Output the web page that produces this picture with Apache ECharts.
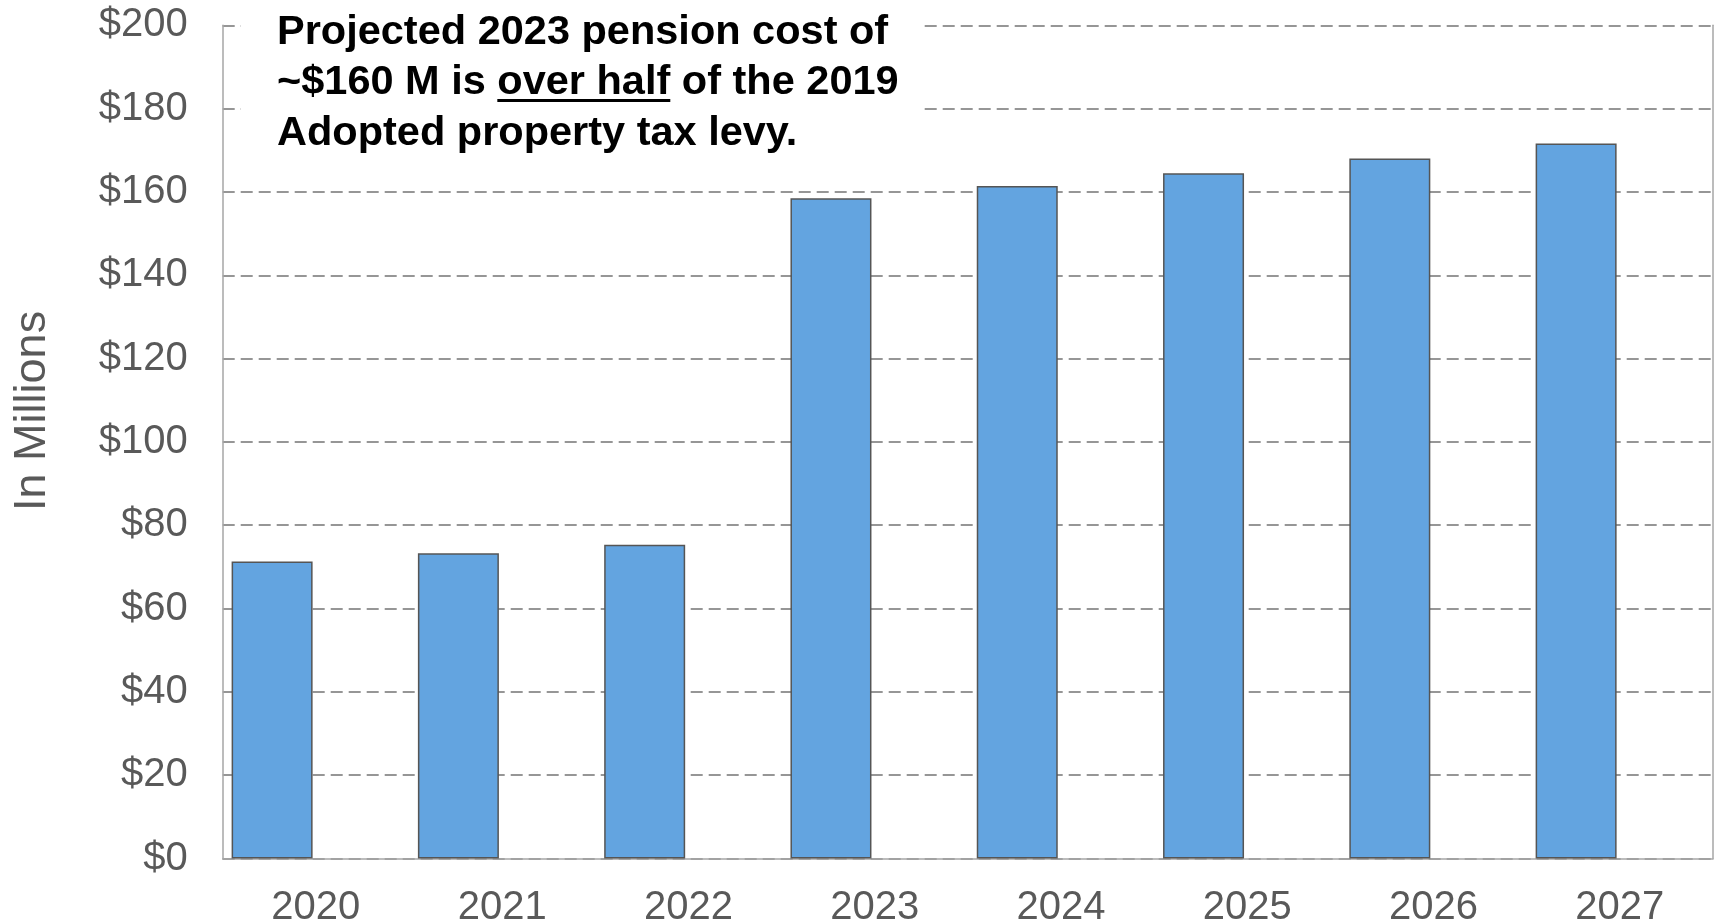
<!DOCTYPE html>
<html>
<head>
<meta charset="utf-8">
<script src="https://cdn.jsdelivr.net/npm/echarts@6/dist/echarts.min.js"></script>
<style>
html,body{margin:0;padding:0;background:#fff;}
#chart{width:1719px;height:924px;}
</style>
</head>
<body>
<div id="chart"></div>
<script>
const years = ['2020','2021','2022','2023','2024','2025','2026','2027'];
const pensionCost = [71.3, 73.3, 75.3, 158.5, 161.4, 164.5, 168.0, 171.6];
const emptySeries = [null, null, null, null, null, null, null, null];
const yTicks = {min: 0, max: 200, interval: 20};
const noteLine1 = 'Projected 2023 pension cost of';
const noteLine2Pre = '~$160 M is ';
const noteLine2Under = 'over half';
const noteLine2Post = ' of the 2019';
const noteLine3 = 'Adopted property tax levy.';

const noteFont = 'bold 41.5px "Liberation Sans", Arial, sans-serif';
const ctx = document.createElement('canvas').getContext('2d');
ctx.font = noteFont;
const noteX = 277;
const ulStart = noteX + ctx.measureText(noteLine2Pre).width;
const ulWidth = ctx.measureText(noteLine2Under).width;

const chart = echarts.init(document.getElementById('chart'), null, {renderer: 'canvas'});
const axisGray = '#a6a6a6';
const labelGray = '#595959';
const noteStyle = {fill: '#000', font: noteFont, verticalAlign: 'middle', align: 'left'};

chart.setOption({
  animation: false,
  backgroundColor: '#fff',
  grid: {left: 222.7, right: 6, top: 25.3, bottom: 65.5, containLabel: false, outerBoundsMode: 'none'},
  xAxis: {
    type: 'category',
    data: years,
    axisLine: {show: true, lineStyle: {color: axisGray, width: 1.5}},
    axisTick: {show: false},
    axisLabel: {color: labelGray, fontSize: 40, fontFamily: 'Liberation Sans', margin: 29}
  },
  yAxis: [{
    type: 'value',
    min: yTicks.min, max: yTicks.max, interval: yTicks.interval,
    name: 'In Millions',
    nameLocation: 'middle',
    nameGap: 168,
    nameRotate: 90,
    nameTextStyle: {color: labelGray, fontSize: 45, fontFamily: 'Liberation Sans', padding: [0, 0, 0, 62]},
    axisLine: {show: true, lineStyle: {color: axisGray, width: 1.5}},
    axisTick: {show: false},
    axisLabel: {color: labelGray, fontSize: 40, fontFamily: 'Liberation Sans', margin: 35,
      formatter: v => '$' + v},
    splitLine: {show: true, lineStyle: {color: '#969696', width: 2, type: [12, 6]}}
  }, {
    type: 'value',
    position: 'right',
    min: yTicks.min, max: yTicks.max, interval: yTicks.interval,
    axisLine: {show: true, lineStyle: {color: axisGray, width: 1.5}},
    axisTick: {show: false},
    axisLabel: {show: false},
    splitLine: {show: false}
  }],
  series: [{
    name: 'Pension cost',
    type: 'bar',
    data: pensionCost,
    barWidth: 81,
    barGap: '8%',
    itemStyle: {color: '#63a4e0', borderColor: '#555555', borderWidth: 1.5}
  }, {
    name: 'Blank',
    type: 'bar',
    data: emptySeries,
    barWidth: 81,
    barGap: '8%',
    itemStyle: {color: '#63a4e0'}
  }],
  graphic: [
    {type: 'rect', z: 100, zlevel: 1, shape: {x: 241, y: 0, width: 682, height: 160}, style: {fill: '#fff'}},
    {type: 'text', z: 101, zlevel: 1, x: noteX, y: 33, style: Object.assign({text: noteLine1}, noteStyle)},
    {type: 'text', z: 101, zlevel: 1, x: noteX, y: 83, style: Object.assign({text: noteLine2Pre + noteLine2Under + noteLine2Post}, noteStyle)},
    {type: 'rect', z: 101, zlevel: 1, shape: {x: ulStart, y: 99, width: ulWidth, height: 3}, style: {fill: '#000'}},
    {type: 'text', z: 101, zlevel: 1, x: noteX, y: 134, style: Object.assign({text: noteLine3}, noteStyle)}
  ]
});
</script>
</body>
</html>
